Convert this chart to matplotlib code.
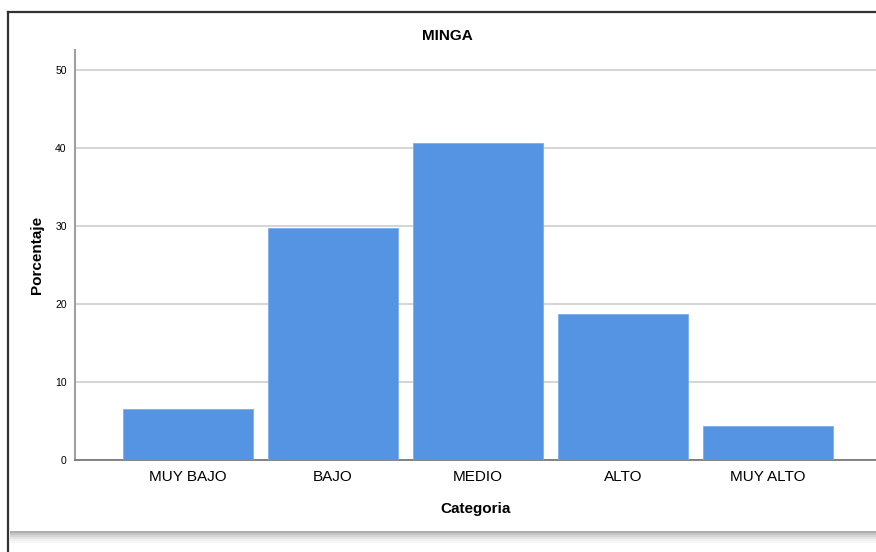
import matplotlib.pyplot as plt
import matplotlib.patches as mpatches
from matplotlib.lines import Line2D

# Data
categorias = ["MUY BAJO", "BAJO", "MEDIO", "ALTO", "MUY ALTO"]
porcentajes = [6.6, 29.7, 40.7, 18.7, 4.4]
y_ticks = [0, 10, 20, 30, 40, 50]

plt.rcParams['font.family'] = ['Liberation Sans', 'DejaVu Sans']

fig = plt.figure(figsize=(8.76, 5.52), dpi=100)
ax = fig.add_axes([75 / 876, 1 - 460 / 552, 1 - 75 / 876, (460 - 50) / 552])

# SPSS-like frame around the chart (right side cut off)
fig.add_artist(Line2D([8 / 876, 8 / 876], [0, 1 - 12 / 552], transform=fig.transFigure,
                      color='#333333', lw=1.6))
fig.add_artist(Line2D([8 / 876, 1], [1 - 12 / 552, 1 - 12 / 552], transform=fig.transFigure,
                      color='#333333', lw=1.6))
# soft shadow under the chart
for i, a in enumerate([0.55, 0.4, 0.28, 0.18, 0.1, 0.05]):
    fig.add_artist(mpatches.Rectangle((10 / 876, 1 - (531 + 2 * i + 2) / 552), 1, 2 / 552,
                                      transform=fig.transFigure, color='#6e6e6e', alpha=a, lw=0))

x = list(range(len(categorias)))
ax.bar(x, porcentajes, width=0.897, color='#5594E3', edgecolor='#7AAEEC', linewidth=0.6, zorder=3)

ax.set_xlim(-0.78, 4.745)
ax.set_ylim(0, 52.6)
ax.set_yticks(y_ticks)
ax.set_yticklabels([str(t) for t in y_ticks], fontsize=7.5)
ax.set_xticks(x)
ax.set_xticklabels(categorias, fontsize=11)
ax.tick_params(axis='both', length=0, pad=6)
ax.tick_params(axis='x', pad=7)

ax.grid(axis='y', color='#D6D6D6', linewidth=1.5, zorder=0)
for s in ['top', 'right']:
    ax.spines[s].set_visible(False)
ax.spines['left'].set_color('#A0A0A0')
ax.spines['left'].set_linewidth(1.5)
ax.spines['bottom'].set_color('#707070')
ax.spines['bottom'].set_linewidth(1.2)

ax.set_ylabel("Porcentaje", fontsize=11, fontweight='bold', labelpad=8)
ax.set_xlabel("Categoria", fontsize=11, fontweight='bold', labelpad=13)
fig.text(447 / 876, 1 - 36 / 552, "MINGA", ha='center', va='center', fontsize=11, fontweight='bold')

fig.savefig("out.png", dpi=100)
